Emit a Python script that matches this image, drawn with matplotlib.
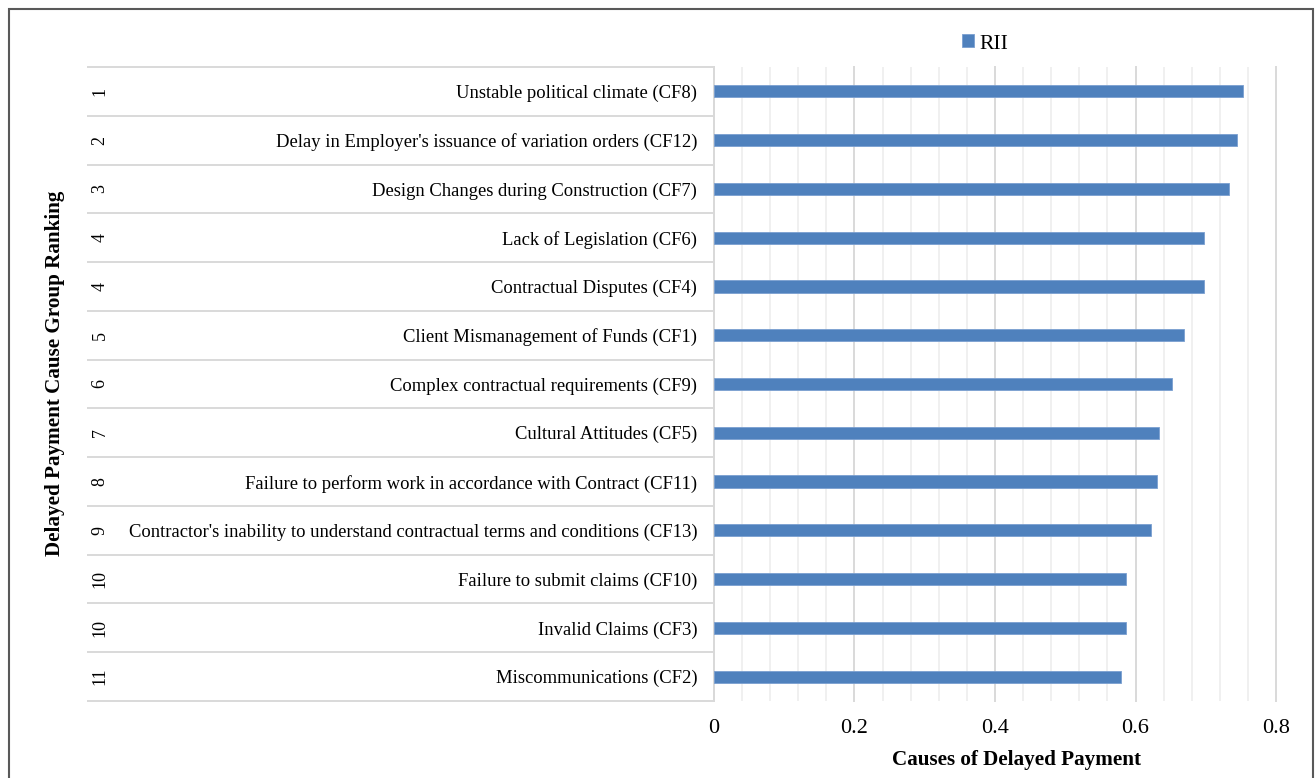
import matplotlib.pyplot as plt
from matplotlib.patches import Rectangle

plt.rcParams['font.family'] = ['Liberation Serif', 'DejaVu Serif']

ranks = ['1', '2', '3', '4', '4', '5', '6', '7', '8', '9', '10', '10', '11']
causes = [
    'Unstable political climate (CF8)',
    "Delay in Employer's issuance of variation orders (CF12)",
    'Design Changes during Construction (CF7)',
    'Lack of Legislation (CF6)',
    'Contractual Disputes (CF4)',
    'Client Mismanagement of Funds (CF1)',
    'Complex contractual requirements (CF9)',
    'Cultural Attitudes (CF5)',
    'Failure to perform work in accordance with Contract (CF11)',
    "Contractor's inability to understand contractual terms and conditions (CF13)",
    'Failure to submit claims (CF10)',
    'Invalid Claims (CF3)',
    'Miscommunications (CF2)',
]
rii = [0.753, 0.745, 0.733, 0.698, 0.698, 0.669, 0.652, 0.634, 0.630, 0.622, 0.587, 0.587, 0.579]
xticks = [0, 0.2, 0.4, 0.6, 0.8]
xticklabels = ['0', '0.2', '0.4', '0.6', '0.8']
minor_ticks = [i * 0.04 for i in range(21)]

W, H = 1316, 778
fig = plt.figure(figsize=(W / 100, H / 100), dpi=100)
ax = fig.add_axes([714 / W, 1 - 701 / H, (1276 - 714) / W, (701 - 67) / H])

ypos = list(range(len(causes)))
ax.barh(ypos, rii, height=0.25, color='#4F81BD', edgecolor='#7a9fd0', linewidth=0.6,
        label='RII', zorder=3)

ax.set_xlim(0, 0.8)
ax.set_ylim(len(causes) - 0.5, -0.5)
ax.set_xticks(minor_ticks, minor=True)
ax.set_xticks(xticks)
ax.set_xticklabels(xticklabels)
ax.grid(axis='x', which='minor', color='#f0f0f0', linewidth=1.4, zorder=0)
ax.grid(axis='x', which='major', color='#d9d9d9', linewidth=1.4, zorder=0.5)
for gl in ax.get_xgridlines():
    gl.set_clip_on(False)
ax.tick_params(axis='x', which='both', length=0, labelsize=16, pad=13)

ax.set_yticks(ypos)
ax.set_yticklabels(causes, fontsize=13.4)
ax.tick_params(axis='y', length=0, pad=12)

for side in ['top', 'right', 'bottom']:
    ax.spines[side].set_visible(False)
ax.spines['left'].set_color('#d9d9d9')
ax.spines['left'].set_linewidth(1.4)

# category separators and rank labels to the left of the plot
x_sep = (88 - 714) / (1276 - 714)
x_rank = (100 - 714) / (1276 - 714)
ytr = ax.get_yaxis_transform()
for i in range(len(causes) + 1):
    ax.plot([x_sep, 0], [i - 0.5, i - 0.5], transform=ytr, clip_on=False,
            color='#d9d9d9', linewidth=1.4)
for i, r in enumerate(ranks):
    ax.text(x_rank, i, r, transform=ytr, rotation=90, ha='center', va='center',
            fontsize=13)

fig.text(1017 / W, 1 - 760 / H, 'Causes of Delayed Payment', ha='center', va='center',
         fontsize=15.2, fontweight='bold')
fig.text(55 / W, 1 - 373 / H, 'Delayed Payment Cause Group Ranking', ha='center',
         va='center', rotation=90, fontsize=15.2, fontweight='bold')

ax.legend(loc='center', bbox_to_anchor=(985 / W, 1 - 44 / H), bbox_transform=fig.transFigure,
          frameon=False, fontsize=15.5, handlelength=0.55, handleheight=0.55,
          handletextpad=0.25)

fig.patches.append(Rectangle((9 / W, -0.02), (1313 - 9) / W, 1 - 9 / H + 0.02,
                             transform=fig.transFigure, fill=False,
                             edgecolor='#595959', linewidth=1.5))

fig.savefig('out.png', dpi=100)
